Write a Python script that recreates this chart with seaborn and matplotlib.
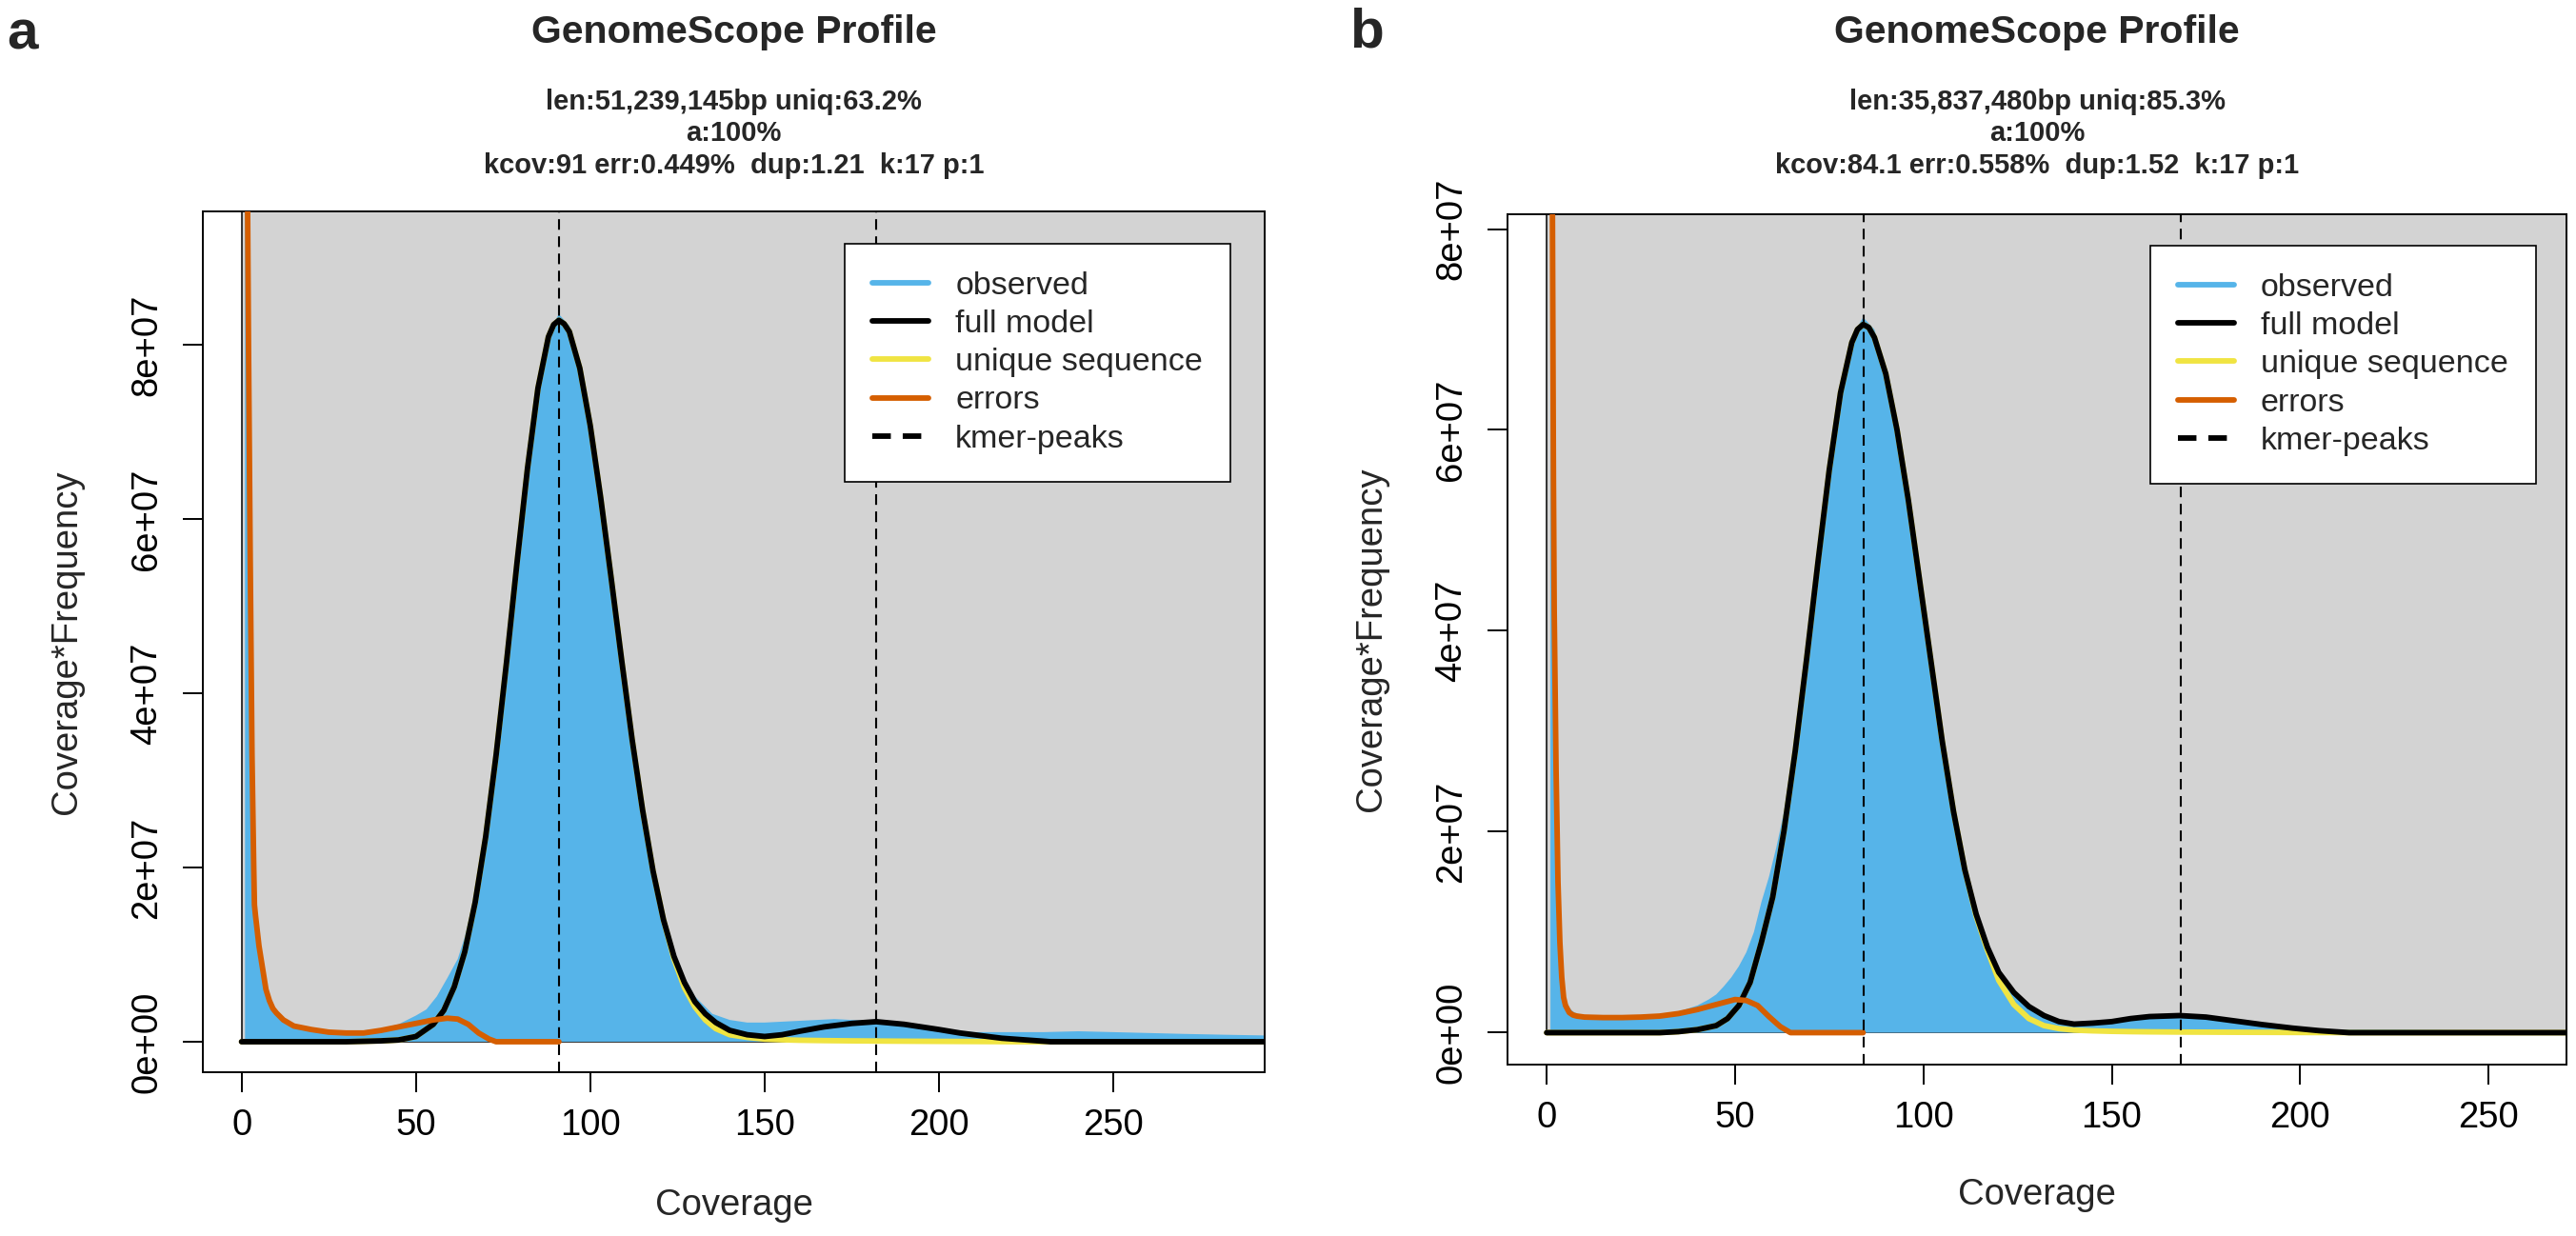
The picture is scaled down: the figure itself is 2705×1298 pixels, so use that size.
import numpy as np
import pandas as pd
import seaborn as sns
import matplotlib.pyplot as plt
from matplotlib.patches import Rectangle
from matplotlib.lines import Line2D

sns.set_style('white')
plt.rcParams['font.family'] = ['Liberation Sans', 'DejaVu Sans']
plt.rcParams['lines.scale_dashes'] = False

# ----------------------------------------------------------------------
# colours (GenomeScope defaults)
# ----------------------------------------------------------------------
C_OBS = '#56B4E9'
C_FULL = 'black'
C_UNIQ = '#F0E442'
C_ERR = '#D55E00'
C_BG = '#D3D3D3'

legend_labels = ['observed', 'full model', 'unique sequence', 'errors', 'kmer-peaks']
x_ticks = [0, 50, 100, 150, 200, 250]
y_ticks = [0, 2, 4, 6, 8]          # units of 1e7
y_tick_labels = ['0e+00', '2e+07', '4e+07', '6e+07', '8e+07']

# ----------------------------------------------------------------------
# %% panel a  (values are Coverage*Frequency / 1e7)
# ----------------------------------------------------------------------
a_title = 'GenomeScope Profile'
a_sub = ['len:51,239,145bp uniq:63.2%', 'a:100%',
         'kcov:91 err:0.449%  dup:1.21  k:17 p:1']

a_obs_x = [1, 2, 3, 4, 5, 6, 7, 8, 9, 10, 12, 15, 20, 25, 30, 35, 40, 45, 50, 53,
           56, 59, 62, 64, 67, 70, 73, 76, 79, 82, 85, 88, 91, 94, 97, 100, 103,
           106, 109, 112, 115, 118, 121, 124, 127, 130, 135, 140, 145, 150, 160,
           170, 180, 190, 200, 210, 220, 230, 240, 250, 260, 270, 282, 296]
a_obs_y = [30, 7, 2.8, 1.45, 1.1, 0.85, 0.62, 0.48, 0.39, 0.33, 0.25, 0.18, 0.14,
           0.12, 0.12, 0.13, 0.15, 0.2, 0.3, 0.37, 0.52, 0.73, 0.95, 1.2, 1.7,
           2.4, 3.32, 4.4, 5.52, 6.62, 7.55, 8.15, 8.35, 8.22, 7.8, 7.13, 6.3,
           5.38, 4.44, 3.53, 2.72, 2.02, 1.46, 1.04, 0.74, 0.52, 0.32, 0.25, 0.22,
           0.22, 0.24, 0.26, 0.24, 0.18, 0.13, 0.11, 0.11, 0.11, 0.12, 0.11, 0.1,
           0.09, 0.08, 0.07]

a_model_x = [0, 10, 20, 30, 40, 45, 50, 55, 58, 61, 64, 67, 70, 73, 76, 79, 82, 85,
             88, 89.5, 91, 92.5, 94, 97, 100, 103, 106, 109, 112, 115, 118, 121,
             124, 127, 130, 133, 136, 140, 145, 150, 155, 160, 167, 175, 182, 190,
             200, 206, 212, 218, 225, 232, 250, 282, 296]
a_full = [0, 0, 0, 0, 0.01, 0.02, 0.06, 0.2, 0.36, 0.63, 1.03, 1.6, 2.35, 3.29,
          4.36, 5.5, 6.58, 7.5, 8.09, 8.23, 8.28, 8.24, 8.15, 7.73, 7.07, 6.24,
          5.32, 4.38, 3.47, 2.66, 1.96, 1.4, 0.98, 0.68, 0.46, 0.32, 0.22, 0.13,
          0.08, 0.06, 0.08, 0.12, 0.17, 0.21, 0.23, 0.2, 0.14, 0.1, 0.07, 0.04,
          0.02, 0.0, 0.0, 0.0, 0.0]
a_unique = [0, 0, 0, 0, 0.01, 0.02, 0.06, 0.2, 0.36, 0.63, 1.03, 1.6, 2.35, 3.29,
            4.36, 5.5, 6.58, 7.5, 8.09, 8.23, 8.28, 8.24, 8.15, 7.73, 7.07, 6.24,
            5.32, 4.38, 3.47, 2.66, 1.96, 1.4, 0.95, 0.62, 0.4, 0.25, 0.15, 0.08,
            0.05, 0.03, 0.022, 0.017, 0.013, 0.01, 0.008, 0.006, 0.004, 0.003,
            0.002, 0.001, 0, 0, 0, 0, 0]

a_err_x = [1, 1.5, 2, 2.5, 3, 3.5, 3.7, 4, 5, 6, 7, 8, 9, 10, 12, 15, 20, 25, 30,
           35, 40, 45, 50, 55, 59, 62, 65, 68, 71, 73, 80, 91]
a_err_y = [14, 11, 8, 5.5, 3.3, 2.0, 1.57, 1.45, 1.1, 0.85, 0.6, 0.47, 0.38, 0.33,
           0.25, 0.18, 0.14, 0.11, 0.1, 0.1, 0.13, 0.17, 0.21, 0.25, 0.27, 0.26,
           0.2, 0.1, 0.03, 0.0, 0.0, 0.0]
a_peaks = [91, 182]

# ----------------------------------------------------------------------
# %% panel b
# ----------------------------------------------------------------------
b_title = 'GenomeScope Profile'
b_sub = ['len:35,837,480bp uniq:85.3%', 'a:100%',
         'kcov:84.1 err:0.558%  dup:1.52  k:17 p:1']

b_obs_x = [1, 2, 3, 4, 5, 6, 7, 8, 10, 15, 20, 25, 30, 35, 40, 43, 45, 47, 49, 51,
           53, 55, 57, 59, 61, 63, 66, 69, 72, 75, 78, 81, 84, 87, 90, 93, 96, 99,
           102, 105, 108, 111, 114, 117, 120, 124, 128, 132, 136, 140, 145, 150,
           155, 160, 168, 175, 182, 190, 198, 205, 213, 225, 240, 260, 275]
b_obs_y = [20, 4.0, 1.6, 0.6, 0.33, 0.25, 0.21, 0.19, 0.17, 0.16, 0.16, 0.17,
           0.18, 0.21, 0.27, 0.33, 0.38, 0.46, 0.55, 0.66, 0.8, 1.0, 1.3, 1.55,
           1.85, 2.2, 2.95, 3.8, 4.75, 5.65, 6.42, 6.93, 7.12, 7.0, 6.62, 6.05,
           5.35, 4.55, 3.75, 2.95, 2.25, 1.68, 1.22, 0.88, 0.63, 0.42, 0.27, 0.18,
           0.12, 0.09, 0.09, 0.11, 0.14, 0.16, 0.17, 0.155, 0.12, 0.08, 0.05,
           0.035, 0.03, 0.03, 0.025, 0.02, 0.02]

b_model_x = [0, 10, 20, 30, 35, 40, 45, 48, 51, 54, 57, 60, 63, 66, 69, 72, 75, 78,
             81, 82.5, 84, 85.5, 87, 90, 93, 96, 99, 102, 105, 108, 111, 114, 117,
             120, 124, 128, 132, 136, 140, 145, 150, 155, 160, 168, 175, 182, 190,
             198, 205, 213, 230, 260, 275]
b_full = [0, 0, 0, 0, 0.01, 0.03, 0.07, 0.14, 0.27, 0.5, 0.9, 1.35, 2.01, 2.81,
          3.72, 4.68, 5.6, 6.37, 6.87, 7.0, 7.05, 7.02, 6.92, 6.56, 6.0, 5.3, 4.5,
          3.7, 2.9, 2.2, 1.62, 1.18, 0.85, 0.6, 0.4, 0.26, 0.17, 0.11, 0.085,
          0.095, 0.11, 0.14, 0.16, 0.17, 0.155, 0.12, 0.08, 0.045, 0.02, 0.0,
          0.0, 0.0, 0.0]
b_unique = [0, 0, 0, 0, 0.01, 0.03, 0.07, 0.14, 0.27, 0.5, 0.9, 1.35, 2.01, 2.81,
            3.72, 4.68, 5.6, 6.37, 6.87, 7.0, 7.05, 7.02, 6.92, 6.56, 6.0, 5.3,
            4.5, 3.7, 2.9, 2.2, 1.62, 1.16, 0.82, 0.52, 0.28, 0.14, 0.07, 0.04,
            0.025, 0.018, 0.013, 0.01, 0.008, 0.006, 0.005, 0.004, 0.003, 0.002,
            0.001, 0, 0, 0, 0]

b_err_x = [1, 1.5, 1.8, 2, 2.5, 3, 3.5, 4, 4.5, 5, 6, 7, 8, 10, 15, 20, 25, 30, 35,
           40, 45, 50, 53, 56, 59, 62, 64.7, 70, 84]
b_err_y = [14, 8.5, 5.5, 4.2, 2.6, 1.5, 0.9, 0.55, 0.35, 0.27, 0.2, 0.175, 0.165,
           0.155, 0.15, 0.15, 0.155, 0.165, 0.19, 0.23, 0.28, 0.33, 0.32, 0.27,
           0.16, 0.06, 0.0, 0.0, 0.0]
b_peaks = [84.1, 168.2]

# ----------------------------------------------------------------------
# %% layout (pixels measured on the 2705x1298 figure)
# ----------------------------------------------------------------------
W, H = 2705, 1298
LW = 4.2
panels = [
    dict(letter='a', letter_x=7, letter_base=52,
         box=(213, 222, 1328, 1126), xlim=(-11.1, 293.4), ylim=(-0.35, 9.53),
         title=a_title, sub=a_sub,
         obs=(a_obs_x, a_obs_y), mx=a_model_x, full=a_full, uniq=a_unique,
         err=(a_err_x, a_err_y), peaks=a_peaks, leg=(0.9677, 0.9624)),
    dict(letter='b', letter_x=1417, letter_base=50,
         box=(1583, 225, 2695, 1118), xlim=(-10.4, 270.7), ylim=(-0.318, 8.147),
         title=b_title, sub=b_sub,
         obs=(b_obs_x, b_obs_y), mx=b_model_x, full=b_full, uniq=b_unique,
         err=(b_err_x, b_err_y), peaks=b_peaks, leg=(0.971, 0.963)),
]

fig = plt.figure(figsize=(W / 100, H / 100), dpi=100)

for p in panels:
    l, t, r, b = p['box']
    ax = fig.add_axes([l / W, 1 - b / H, (r - l) / W, (b - t) / H])
    ax.set_xlim(*p['xlim'])
    ax.set_ylim(*p['ylim'])

    # grey plotting region starting at (0, 0)
    ax.add_patch(Rectangle((0, 0), p['xlim'][1] + 10, p['ylim'][1] + 10,
                           facecolor=C_BG, edgecolor='black', lw=1.1, zorder=0))

    ox, oy = p['obs']
    ax.fill_between(ox, oy, 0, color=C_OBS, lw=0, zorder=1)
    sns.lineplot(x=p['mx'], y=p['uniq'], ax=ax, color=C_UNIQ, linewidth=LW,
                 sort=False, estimator=None, zorder=2)
    sns.lineplot(x=p['mx'], y=p['full'], ax=ax, color=C_FULL, linewidth=LW,
                 sort=False, estimator=None, zorder=3)
    ex, ey = p['err']
    sns.lineplot(x=ex, y=ey, ax=ax, color=C_ERR, linewidth=LW,
                 sort=False, estimator=None, zorder=4)
    for pk in p['peaks']:
        ax.axvline(pk, color='black', lw=1.5, ls=(0, (8, 5)), zorder=5)

    ax.set_xticks(x_ticks)
    ax.set_yticks(y_ticks)
    ax.set_yticklabels(y_tick_labels, rotation=90, va='center')
    ax.tick_params(axis='both', direction='out', length=15, width=1.4,
                   colors='black', labelsize=27.5, left=True, bottom=True)
    ax.tick_params(axis='x', pad=12)
    ax.tick_params(axis='y', pad=14.5)
    for s in ax.spines.values():
        s.set_color('black')
        s.set_linewidth(1.4)
        s.set_visible(True)

    ax.set_xlabel('Coverage', fontsize=27.5)
    ax.set_ylabel('Coverage*Frequency', fontsize=27.5)
    ax.xaxis.set_label_coords(0.5, -(1248 - 1126) / 904 if p['letter'] == 'a'
                              else -(1237 - 1118) / 893)
    ax.yaxis.set_label_coords(-0.112, 0.5)

    handles = [Line2D([], [], color=C_OBS, lw=LW),
               Line2D([], [], color=C_FULL, lw=LW),
               Line2D([], [], color=C_UNIQ, lw=LW),
               Line2D([], [], color=C_ERR, lw=LW),
               Line2D([], [], color='black', lw=LW, ls=(0, (14, 9)))]
    leg = ax.legend(handles, legend_labels, loc='upper right',
                    bbox_to_anchor=p['leg'], bbox_transform=ax.transAxes,
                    borderaxespad=0, fontsize=24.5, frameon=True, fancybox=False,
                    framealpha=1, facecolor='white', edgecolor='black',
                    handlelength=1.75, handletextpad=0.82, borderpad=0.85,
                    labelspacing=0.27)
    leg.get_frame().set_linewidth(1.2)
    leg.set_zorder(10)

    cx = (l + r) / 2 / W
    fig.text(cx, 1 - 45 / H, p['title'], ha='center', va='baseline',
             fontsize=29.5, fontweight='bold')
    for line, base in zip(p['sub'], [115, 148, 182]):
        fig.text(cx, 1 - base / H, line, ha='center', va='baseline',
                 fontsize=21, fontweight='bold')
    fig.text(p['letter_x'] / W, 1 - p['letter_base'] / H, p['letter'],
             ha='left', va='baseline', fontsize=42, fontweight='bold')

fig.savefig('out.png', dpi=100)
